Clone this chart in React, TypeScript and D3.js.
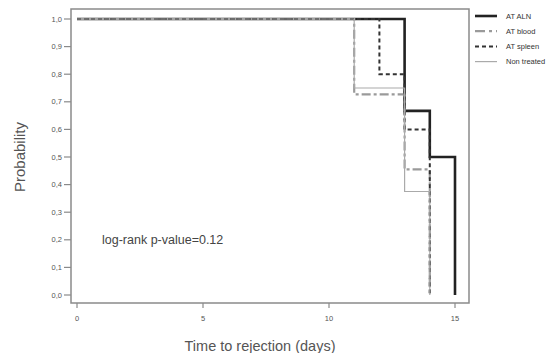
import React from "react";
import * as d3 from "d3";

const alnTimes = [0, 13, 14, 15];
const alnSurv = [1, 0.667, 0.5, 0];
const bloodTimes = [0, 11, 13, 14];
const bloodSurv = [1, 0.727, 0.455, 0];
const spleenTimes = [0, 12, 13, 14];
const spleenSurv = [1, 0.8, 0.6, 0];
const nonTimes = [0, 11, 13, 14];
const nonSurv = [1, 0.75, 0.375, 0];

const yTicks = [0, 0.1, 0.2, 0.3, 0.4, 0.5, 0.6, 0.7, 0.8, 0.9, 1.0];
const xTicks = [0, 5, 10, 15];
const legendLabels = ["AT ALN", "AT blood", "AT spleen", "Non treated"];

const W = 557, H = 353;
const frame = { left: 71, top: 9, right: 469, bottom: 303 };

export default function App() {
  const x = d3.scaleLinear().domain([0, 15]).range([77, 455]);
  const y = d3.scaleLinear().domain([0, 1]).range([295, 19]);
  const line = d3
    .line<[number, number]>()
    .x((d) => x(d[0]))
    .y((d) => y(d[1]))
    .curve(d3.curveStepAfter);
  const pts = (t: number[], s: number[]) => t.map((v, i) => [v, s[i]] as [number, number]);

  const series = [
    { name: legendLabels[0], d: pts(alnTimes, alnSurv), stroke: "#222", w: 2.6, dash: "" },
    { name: legendLabels[1], d: pts(bloodTimes, bloodSurv), stroke: "#9a9a9a", w: 2.2, dash: "9,3,3,3" },
    { name: legendLabels[2], d: pts(spleenTimes, spleenSurv), stroke: "#333", w: 2, dash: "4,3" },
    { name: legendLabels[3], d: pts(nonTimes, nonSurv), stroke: "#aaa", w: 1.2, dash: "" },
  ];

  const fmt = (v: number) => v.toFixed(1).replace(".", ",");
  const axisColor = "#8a8a8a";
  const textColor = "#555";

  return (
    <svg width={W} height={H} style={{ position: "absolute", left: 0, top: 0, background: "#fff" }}
      fontFamily="Liberation Sans, Arial, sans-serif">
      <rect x={0} y={0} width={W} height={H} fill="#fff" />
      <rect x={frame.left} y={frame.top} width={frame.right - frame.left} height={frame.bottom - frame.top}
        fill="none" stroke={axisColor} strokeWidth={1.5} />
      {yTicks.map((t) => (
        <g key={t}>
          <line x1={64} x2={frame.left} y1={y(t)} y2={y(t)} stroke={axisColor} strokeWidth={1.2} />
          <text x={62} y={y(t)} dy="0.35em" textAnchor="end" fontSize={7.5} fill={textColor}>{fmt(t)}</text>
        </g>
      ))}
      {xTicks.map((t) => (
        <g key={t}>
          <line x1={x(t)} x2={x(t)} y1={frame.bottom} y2={frame.bottom + 5} stroke={axisColor} strokeWidth={1.2} />
          <text x={x(t)} y={321} textAnchor="middle" fontSize={7.5} fill={textColor}>{t}</text>
        </g>
      ))}
      {series.map((s) => (
        <path key={s.name} d={line(s.d) || ""} fill="none" stroke={s.stroke} strokeWidth={s.w}
          strokeDasharray={s.dash || undefined} />
      ))}
      {series.map((s, i) => {
        const ly = 16 + i * 15.2;
        return (
          <g key={s.name}>
            <line x1={475} x2={497} y1={ly} y2={ly} stroke={s.stroke} strokeWidth={s.w}
              strokeDasharray={s.dash ? (i === 1 ? "10,4,3,4" : s.dash) : undefined} />
            <text x={506} y={ly} dy="0.35em" fontSize={7.5} fill="#333">{s.name}</text>
          </g>
        );
      })}
      <text x={102} y={240} dy="0.35em" fontSize={12.5} fill="#444">log-rank p-value=0.12</text>
      <text x={260} y={346} dy="0.35em" textAnchor="middle" fontSize={14.5} fill={textColor}>Time to rejection (days)</text>
      <text transform={`translate(20,157) rotate(-90)`} dy="0.35em" textAnchor="middle" fontSize={15} fill={textColor}>Probability</text>
    </svg>
  );
}
